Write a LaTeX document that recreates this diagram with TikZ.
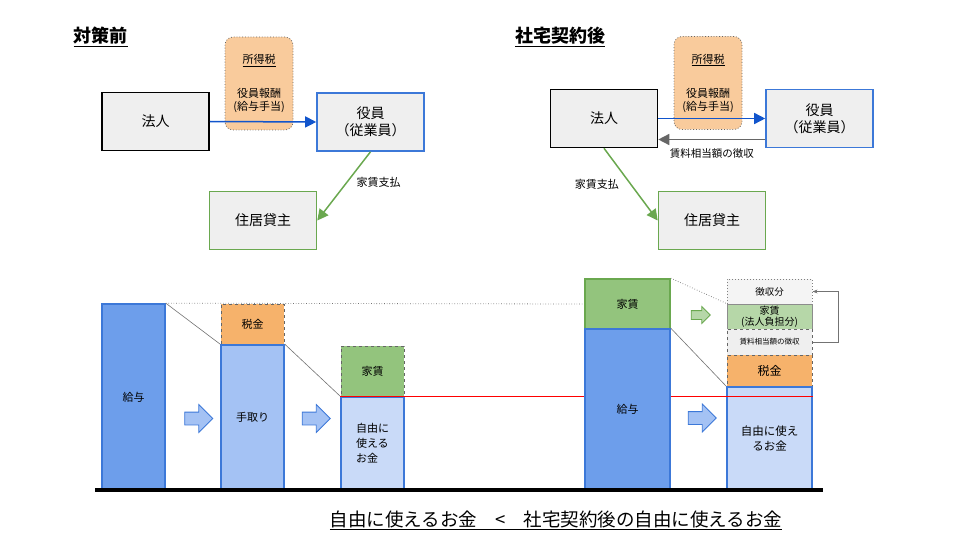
\documentclass[tikz,border=0pt]{standalone}
\usepackage{fontspec}
\setmainfont{Noto Sans CJK JP}
\usepackage{xcolor}
\usetikzlibrary{positioning, arrows.meta, shapes.arrows}

\definecolor{boxgray}{HTML}{EFEFEF}
\definecolor{linkblue}{HTML}{1155CC}
\definecolor{edgeblue}{HTML}{3C78D8}
\definecolor{edgegreen}{HTML}{6AA84F}
\definecolor{taxorange}{HTML}{F9CB9C}
\definecolor{barblue}{HTML}{6D9EEB}
\definecolor{netblue}{HTML}{A4C2F4}
\definecolor{freeblue}{HTML}{C9DAF8}
\definecolor{taxfill}{HTML}{F6B26B}
\definecolor{rentgreen}{HTML}{93C47D}
\definecolor{rentlight}{HTML}{B6D7A8}

\begin{document}
\begin{tikzpicture}[x=1pt, y=-1pt,
    entity/.style={draw, line width=1.6pt, fill=boxgray, minimum width=107pt, minimum height=58pt, font=\fontsize{14}{17}\selectfont, align=center},
    taxnote/.style={draw=black!60, dotted, thick, fill=taxorange, rounded corners=8pt, minimum width=68pt, minimum height=93pt, align=center, font=\fontsize{11}{13}\selectfont},
    bar/.style={draw=edgeblue, line width=1.6pt, minimum width=63pt, inner sep=0pt, align=center, font=\fontsize{11}{15}\selectfont},
    part/.style={draw=black!60, dashed, line width=1pt, minimum width=63pt, inner sep=0pt, align=center, font=\fontsize{11}{13}\selectfont},
    flow/.style={single arrow, draw=edgeblue, line width=0.8pt, fill=netblue, minimum height=28pt, single arrow head extend=7.5pt, inner sep=0pt},
    pay/.style={-{Triangle[length=11pt, width=11pt]}, line width=1.5pt},
    guide/.style={draw=black!55, line width=0.6pt},
    lbl/.style={text=black, font=\fontsize{11}{13}\selectfont}
  ]
    \useasboundingbox (0,0) rectangle (960,540);

    % Titles
    \node (titleL) at (100.5,37) {\fontsize{18}{20}\selectfont\bfseries\underline{対策前}};
    \node (titleR) at (560,37) {\fontsize{18}{20}\selectfont\bfseries\underline{社宅契約後}};

    % Before: corporation pays salary, officer pays rent
    \node[taxnote] (taxL) at (259,83.5) {\underline{所得税}\\[21pt]役員報酬\\(給与手当)};
    \node[entity] (houjinL) at (155.5,121.5) {法人};
    \node[entity, draw=edgeblue] (yakuinL) at (370.5,122) {役員\\（従業員）};
    \node[entity, draw=edgegreen] (juukyoL) at (263,220.5) {住居貸主};
    \draw[pay, linkblue] (houjinL.east) -- (yakuinL.west);
    \draw[pay, edgegreen] (yakuinL.south) -- (juukyoL.east)
        node[lbl, pos=0.45, right=6pt] {家賃支払};

    % After: corporation pays rent, collects the equivalent
    \node[taxnote] (taxR) at (708,83) {\underline{所得税}\\[21pt]役員報酬\\(給与手当)};
    \node[entity] (houjinR) at (604,118.5) {法人};
    \node[entity, draw=edgeblue] (yakuinR) at (819.5,118.5) {役員\\（従業員）};
    \node[entity, draw=edgegreen] (juukyoR) at (712,220.5) {住居貸主};
    \draw[pay, linkblue] (houjinR.east) -- (yakuinR.west);
    \draw[pay, black!60] ([yshift=-21pt]yakuinR.west) -- ([yshift=-21pt]houjinR.east)
        node[lbl, midway, below=5pt, font=\fontsize{10.5}{12}\selectfont] {賃料相当額の徴収};
    \draw[pay, edgegreen] (houjinR.south) -- (juukyoR.west)
        node[lbl, pos=0.5, left=8pt] {家賃支払};

    % Before: bars
    \node[bar, fill=barblue, minimum height=186pt] (kyuyoL) at (133.5,397) {給与};
    \node[part, fill=taxfill, minimum height=41pt] (zeikinL) at (252.5,324.5) {税金};
    \node[bar, fill=netblue, minimum height=145pt] (tedoriL) at (252.5,417.5) {手取り};
    \node[part, fill=rentgreen, minimum height=51pt] (yachinL) at (372.5,371.5) {家賃};
    \node[bar, fill=freeblue, minimum height=93pt, align=left] (jiyuL) at (372.5,443.5) {自由に\\使える\\お金};
    \node[flow] (stepL1) at (195.5,418.5) {\rule{0pt}{12pt}};
    \node[flow] (stepL2) at (313,418.5) {\rule{0pt}{12pt}};

    % After: bars
    \node[bar, draw=edgegreen, fill=rentgreen, minimum width=85pt, minimum height=50pt] (yachinR) at (627.5,304) {家賃};
    \node[bar, fill=barblue, minimum width=85pt, minimum height=161pt] (kyuyoR) at (627.5,409.5) {給与};
    \node[part, dotted, draw=black!50, fill=boxgray!70, minimum width=85pt, minimum height=25pt, font=\fontsize{9.5}{11}\selectfont] (choshuR) at (769.5,291.5) {徴収分};
    \node[part, solid, draw=black!45, fill=rentlight, minimum width=85pt, minimum height=25pt, font=\fontsize{10}{11}\selectfont] (futanR) at (769.5,316.5) {家賃\\(法人負担分)};
    \node[part, fill=boxgray, minimum width=85pt, minimum height=26pt, font=\fontsize{7.5}{9}\selectfont] (chinryoR) at (769.5,342) {賃料相当額の徴収};
    \node[part, fill=taxfill, minimum width=85pt, minimum height=32pt, font=\fontsize{12}{14}\selectfont] (zeikinR) at (769.5,371) {税金};
    \node[bar, fill=freeblue, minimum width=85pt, minimum height=103pt, font=\fontsize{11.5}{15}\selectfont] (jiyuR) at (769.5,438.5) {自由に使え\\るお金};
    \node[flow, draw=edgegreen, fill=rentlight, minimum height=19pt, single arrow head extend=4pt] (stepR1) at (698.5,315) {\rule{0pt}{8pt}};
    \node[flow] (stepR2) at (699,418) {\rule{0pt}{12pt}};

    % Guide lines between bars
    \draw[guide, dotted, thick] (kyuyoL.north east) -- (yachinR.west);
    \draw[guide, dotted, thick] (yachinR.north east) -- (futanR.north west);
    \draw[guide] (kyuyoL.north east) -- (tedoriL.north west);
    \draw[guide] (tedoriL.north east) -- (jiyuL.north west);
    \draw[guide] (kyuyoR.north east) -- (jiyuR.north west);
    \draw[guide, -{Stealth[length=5pt]}] (chinryoR.east) -- ++(26,0) |- (choshuR.east);

    % Red level of free money
    \draw[red, line width=1.3pt] (jiyuL.north west) -- (kyuyoR.west |- jiyuL.north);
    \draw[red, line width=1.3pt] (kyuyoR.east |- jiyuL.north) -- (jiyuR.east |- jiyuL.north);

    % Ground line
    \coordinate (groundL) at (95,490);
    \coordinate (groundR) at (823,490);
    \draw[line width=3.5pt] (groundL) -- (groundR);

    % Conclusion
    \node (result) at (556,520) {\fontsize{18.5}{20}\selectfont\underline{自由に使えるお金\hspace{18pt}<\hspace{18pt}社宅契約後の自由に使えるお金}};

\end{tikzpicture}
\end{document}
